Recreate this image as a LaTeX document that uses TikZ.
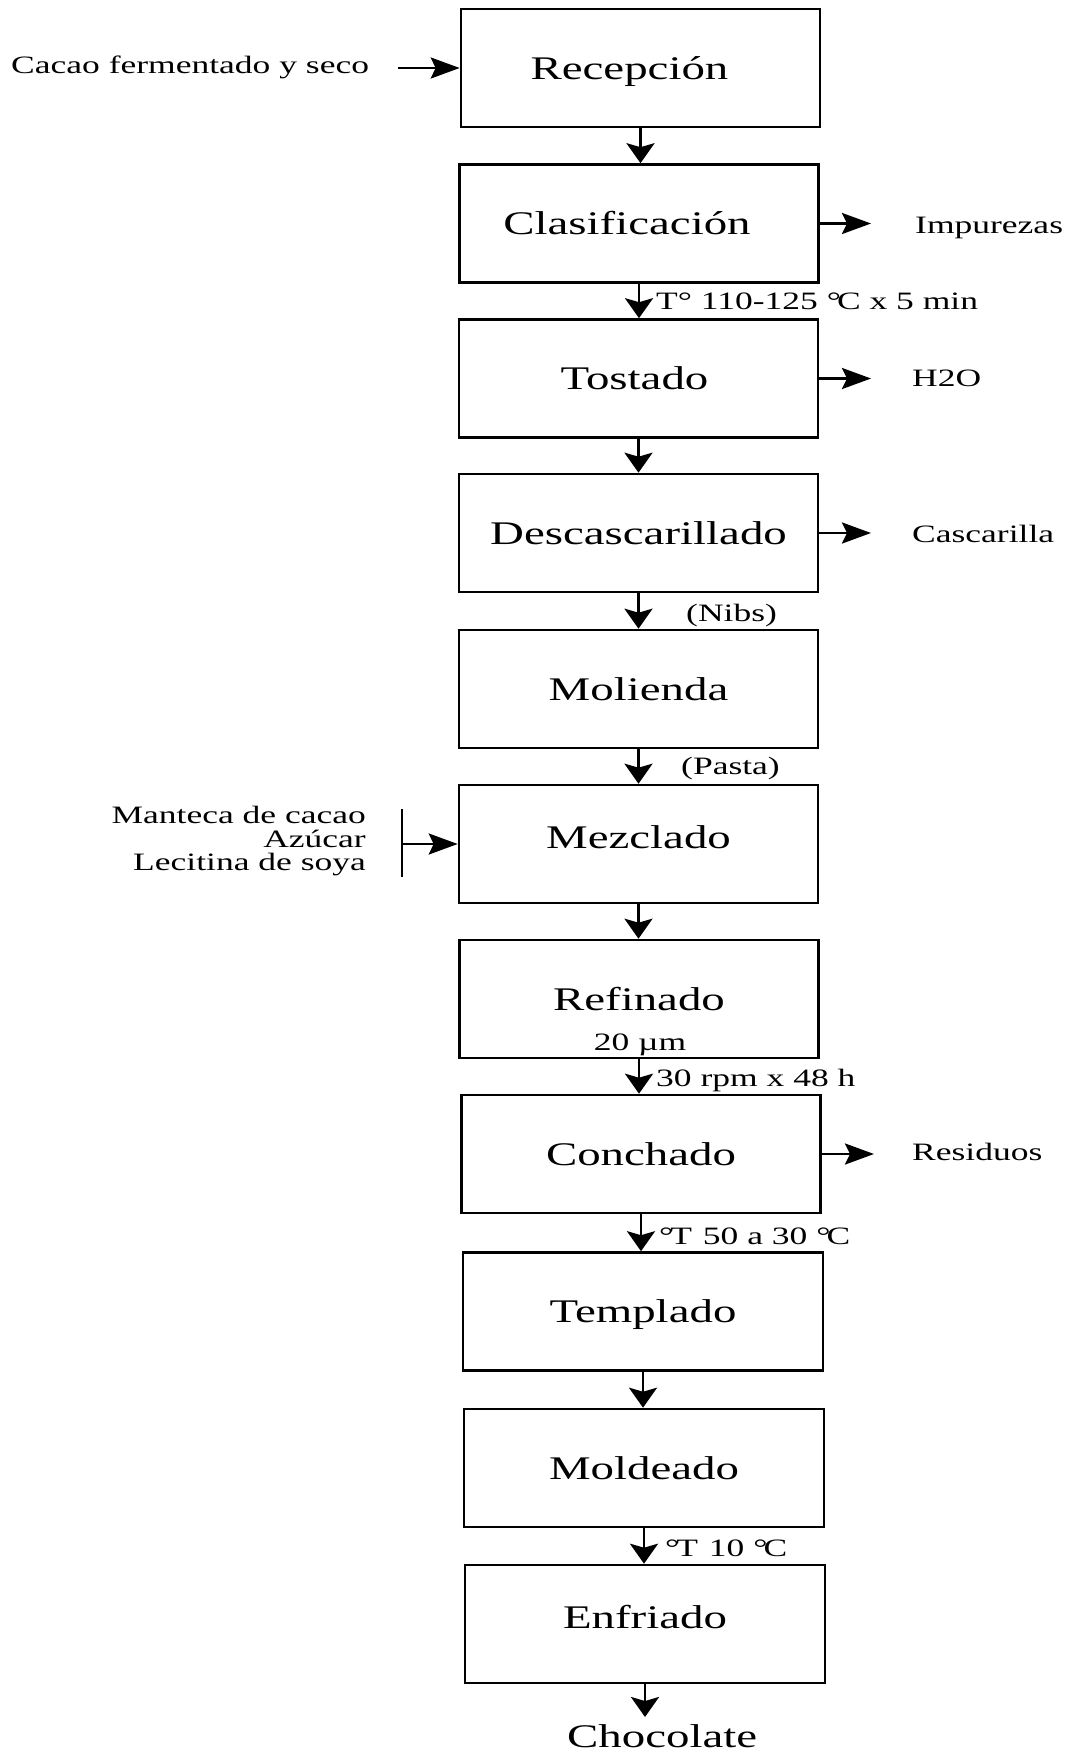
\documentclass[tikz,border=0pt]{standalone}
\usepackage{fontspec}
\setmainfont{Liberation Serif}[FakeStretch=1.42]
\usetikzlibrary{arrows.meta}
\newcommand{\degC}{°\kern-4pt C}
\begin{document}
\begin{tikzpicture}[x=1pt,y=-1pt,
  procbox/.style={draw, line width=2.6pt, minimum width=359pt, minimum height=118pt,
    inner sep=0pt, text height=22pt, text depth=0pt, font=\fontsize{33}{40}\selectfont},
  bigtxt/.style={inner sep=0pt, font=\fontsize{33}{40}\selectfont},
  smalltxt/.style={inner sep=0pt, font=\fontsize{25}{30}\selectfont},
  varrow/.style={line width=2.8pt, -{Stealth[length=20pt,width=28pt,inset=4pt]}},
  harrow/.style={line width=2.8pt, -{Stealth[length=29pt,width=21pt,inset=5pt]}},
  barline/.style={line width=2.8pt},
]
\useasboundingbox (0,0) rectangle (1066,1751);

% process boxes
\node[procbox] (rec) at (640.5,68) {\hspace*{-22pt}Recepción};
\node[procbox] (cla) at (639,223.5) {\hspace*{-24pt}Clasificación};
\node[procbox] (tos) at (638.5,378.5) {\hspace*{-8pt}Tostado};
\node[procbox] (des) at (638.5,533) {Descascarillado};
\node[procbox] (mol) at (638.5,689) {Molienda};
\node[procbox, text depth=14pt] (mez) at (638.5,844) {Mezclado};
\node[procbox] (ref) at (639,999) {};
\node[bigtxt, anchor=base] (refT) at (639,1010) {Refinado};
\node[smalltxt, anchor=base] (refU) at (640,1050) {20 µm};
\node[procbox] (con) at (641,1154) {Conchado};
\node[procbox, minimum width=360pt] (tem) at (643,1311.5) {Templado};
\node[procbox, minimum width=360pt] (mold) at (644,1468) {Moldeado};
\node[procbox, minimum width=360pt, text depth=13pt] (enf) at (645,1624) {Enfriado};
\node[bigtxt, anchor=base west] (choc) at (567,1747) {Chocolate};

% main flow
\draw[varrow] (rec.south) -- (rec.south |- cla.north);
\draw[varrow] (cla.south) -- (cla.south |- tos.north);
\draw[varrow] (tos.south) -- (tos.south |- des.north);
\draw[varrow] (des.south) -- (des.south |- mol.north);
\draw[varrow] (mol.south) -- (mol.south |- mez.north);
\draw[varrow] (mez.south) -- (mez.south |- ref.north);
\draw[varrow] (ref.south) -- (ref.south |- con.north);
\draw[varrow] (con.south) -- (con.south |- tem.north);
\draw[varrow] (tem.south) -- (tem.south |- mold.north);
\draw[varrow] (mold.south) -- (mold.south |- enf.north);
\coordinate (chocTip) at (645,1717);
\draw[varrow] (enf.south) -- (enf.south |- chocTip);

% flow labels
\node[smalltxt, anchor=base west] (l1) at (656,309) {T° 110-125 \degC{} x 5 min};
\node[smalltxt, anchor=base west] (l2) at (686,621) {(Nibs)};
\node[smalltxt, anchor=base west] (l3) at (681,774) {(Pasta)};
\node[smalltxt, anchor=base west] (l4) at (656,1086) {30 rpm x 48 h};
\node[smalltxt, anchor=base west] (l5) at (659,1244) {°\kern-3pt T\ \kern2pt 50 a 30 \degC};
\node[smalltxt, anchor=base west] (l6) at (665,1556) {°\kern-3pt T\ \kern2pt 10 \degC};

% input
\node[smalltxt, anchor=base west] (cac) at (11,73) {Cacao fermentado y seco};
\coordinate (cacS) at (398,68);
\draw[harrow] (cacS) -- (rec.west);

% mezclado inputs
\node[smalltxt, anchor=base east] (in1) at (366,823) {Manteca de cacao};
\node[smalltxt, anchor=base east] (in2) at (366,847) {Azúcar};
\node[smalltxt, anchor=base east] (in3) at (366,870) {Lecitina de soya};
\coordinate (barT) at (402,809);
\coordinate (barB) at (402,877);
\coordinate (barM) at (402,844);
\draw[barline] (barT) -- (barB);
\draw[harrow] (barM) -- (barM -| mez.west);

% outputs
\coordinate (oImp) at (871,223.5);
\coordinate (oH) at (871,378.5);
\coordinate (oCas) at (871,533);
\coordinate (oRes) at (874,1154);
\draw[harrow] (cla.east) -- (oImp);
\draw[harrow] (tos.east) -- (oH);
\draw[harrow] (des.east) -- (oCas);
\draw[harrow] (con.east) -- (oRes);
\node[smalltxt, anchor=base west] (imp) at (915,233) {Impurezas};
\node[smalltxt, anchor=base west] (h2o) at (912,386) {H2O};
\node[smalltxt, anchor=base west] (cas) at (912,542) {Cascarilla};
\node[smalltxt, anchor=base west] (res) at (912,1160) {Residuos};
\end{tikzpicture}
\end{document}
